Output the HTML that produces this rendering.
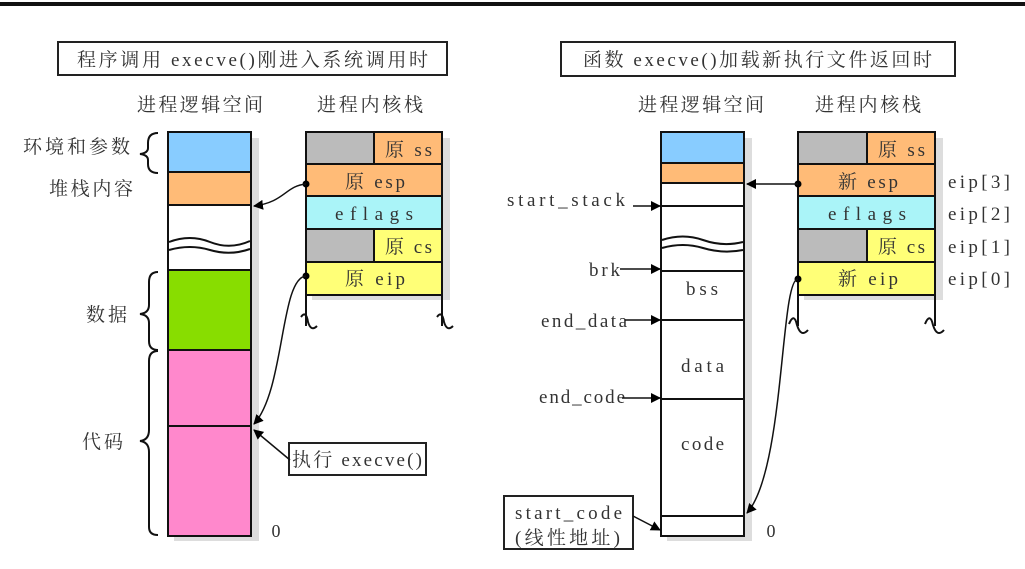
<!DOCTYPE html>
<html><head><meta charset="utf-8"><style>
html,body{margin:0;padding:0;background:#fff}
svg text{font-family:"Liberation Serif","Noto Serif CJK SC",serif;fill:#333}
</style></head><body>
<svg width="1025" height="564" viewBox="0 0 1025 564" xmlns="http://www.w3.org/2000/svg">
<defs>
<marker id="ar" markerWidth="10" markerHeight="10" refX="9" refY="5" orient="auto" markerUnits="userSpaceOnUse"><path d="M0,0 L10,5 L0,10 z" fill="#000"/></marker>
</defs>
<rect x="0" y="2" width="1025" height="4" fill="#111"/>
<!-- titles -->
<rect x="58" y="42" width="389" height="33" fill="#fff" stroke="#222" stroke-width="2"/>
<text x="77" y="66" font-size="19" textLength="351" lengthAdjust="spacing">程序调用 execve()刚进入系统调用时</text>
<rect x="561" y="42" width="394" height="34" fill="#fff" stroke="#222" stroke-width="2"/>
<text x="583" y="66" font-size="19" textLength="349" lengthAdjust="spacing">函数 execve()加载新执行文件返回时</text>
<text x="137" y="111" font-size="19" textLength="126" lengthAdjust="spacing">进程逻辑空间</text>
<text x="317" y="111" font-size="19" textLength="106" lengthAdjust="spacing">进程内核栈</text>
<text x="638" y="111" font-size="19" textLength="126" lengthAdjust="spacing">进程逻辑空间</text>
<text x="815" y="111" font-size="19" textLength="106" lengthAdjust="spacing">进程内核栈</text>

<!-- LEFT column -->
<rect x="252" y="138" width="7" height="401" fill="#ddd"/>
<rect x="174" y="536" width="85" height="5" fill="#ddd"/>
<rect x="168" y="132" width="83" height="40" fill="#88ccff" stroke="#111" stroke-width="2"/>
<rect x="168" y="172" width="83" height="33" fill="#ffbb77" stroke="#111" stroke-width="2"/>
<rect x="168" y="205" width="83" height="65" fill="#fff" stroke="#111" stroke-width="2"/>
<path d="M169,242 Q190,234 210,242 T250,241 M169,250 Q190,244 210,250 T250,249" fill="none" stroke="#111" stroke-width="2"/>
<rect x="168" y="270" width="83" height="80" fill="#88dd00" stroke="#111" stroke-width="2"/>
<rect x="168" y="350" width="83" height="186" fill="#ff88cc" stroke="#111" stroke-width="2"/>
<line x1="168" y1="426" x2="251" y2="426" stroke="#111" stroke-width="2"/>
<text x="276" y="537" font-size="18" text-anchor="middle">0</text>
<!-- braces -->
<path d="M158,133 Q148,133 148,143 L148,148 Q148,153 140,154 Q148,155 148,160 L148,164 Q148,173 158,173" fill="none" stroke="#111" stroke-width="2"/>
<path d="M158,272 Q149,272 149,282 L149,305 Q149,313 140,314 Q149,315 149,323 L149,341 Q149,350 158,350" fill="none" stroke="#111" stroke-width="2"/>
<path d="M158,351 Q149,351 149,361 L149,430 Q149,440 140,441 Q149,442 149,452 L149,527 Q149,535 158,535" fill="none" stroke="#111" stroke-width="2"/>
<text x="23" y="153" font-size="19" textLength="107" lengthAdjust="spacing">环境和参数</text>
<text x="49" y="195" font-size="19" textLength="84" lengthAdjust="spacing">堆栈内容</text>
<text x="86" y="321" font-size="19" textLength="41" lengthAdjust="spacing">数据</text>
<text x="82" y="448" font-size="19" textLength="41" lengthAdjust="spacing">代码</text>

<!-- LEFT stack -->
<rect x="443" y="138" width="7" height="162" fill="#ddd"/>
<rect x="312" y="295" width="138" height="5" fill="#ddd"/>
<rect x="306" y="132" width="68" height="32" fill="#bbb" stroke="#111" stroke-width="2"/>
<rect x="374" y="132" width="68" height="32" fill="#ffbb77" stroke="#111" stroke-width="2"/>
<rect x="306" y="164" width="136" height="32" fill="#ffbb77" stroke="#111" stroke-width="2"/>
<rect x="306" y="196" width="136" height="33" fill="#aaf4f8" stroke="#111" stroke-width="2"/>
<rect x="306" y="229" width="68" height="33" fill="#bbb" stroke="#111" stroke-width="2"/>
<rect x="374" y="229" width="68" height="33" fill="#ffff77" stroke="#111" stroke-width="2"/>
<rect x="306" y="262" width="136" height="33" fill="#ffff77" stroke="#111" stroke-width="2"/>
<text x="385" y="156" font-size="19" textLength="47" lengthAdjust="spacing">原 ss</text>
<text x="345" y="188" font-size="19" textLength="60" lengthAdjust="spacing">原 esp</text>
<text x="335" y="220" font-size="19" textLength="78" lengthAdjust="spacing">eflags</text>
<text x="385" y="253" font-size="19" textLength="47" lengthAdjust="spacing">原 cs</text>
<text x="345" y="285" font-size="19" textLength="60" lengthAdjust="spacing">原 eip</text>
<path d="M306,295 L306,326 M442,295 L442,326" stroke="#111" stroke-width="2"/>
<path d="M301,317 Q306,310 308,322 Q311,332 317,326 M437,317 Q442,310 444,322 Q447,332 453,326" fill="none" stroke="#111" stroke-width="2"/>
<circle cx="306" cy="184" r="3.5" fill="#000"/>
<circle cx="306" cy="276" r="3.5" fill="#000"/>
<path d="M306,184 C285,186 285,202 254,206" fill="none" stroke="#111" stroke-width="1.5" marker-end="url(#ar)"/>
<path d="M306,276 C280,278 285,390 254,424" fill="none" stroke="#111" stroke-width="1.5" marker-end="url(#ar)"/>
<rect x="289" y="443" width="137" height="32" fill="#fff" stroke="#222" stroke-width="2"/>
<text x="292" y="466" font-size="19" textLength="130" lengthAdjust="spacing">执行 execve()</text>
<path d="M290,460 L254,430" stroke="#111" stroke-width="1.5" marker-end="url(#ar)"/>

<!-- RIGHT column -->
<rect x="745" y="138" width="7" height="401" fill="#ddd"/>
<rect x="667" y="536" width="85" height="5" fill="#ddd"/>
<rect x="661" y="132" width="83" height="31" fill="#88ccff" stroke="#111" stroke-width="2"/>
<rect x="661" y="163" width="83" height="20" fill="#ffbb77" stroke="#111" stroke-width="2"/>
<rect x="661" y="183" width="83" height="353" fill="#fff" stroke="#111" stroke-width="2"/>
<line x1="661" y1="206" x2="744" y2="206" stroke="#111" stroke-width="2"/>
<path d="M662,240 Q683,233 703,240 T743,242 M662,248 Q683,242 703,248 T743,250" fill="none" stroke="#111" stroke-width="2"/>
<line x1="661" y1="271" x2="744" y2="271" stroke="#111" stroke-width="2"/>
<line x1="661" y1="320" x2="744" y2="320" stroke="#111" stroke-width="2"/>
<line x1="661" y1="399" x2="744" y2="399" stroke="#111" stroke-width="2"/>
<line x1="661" y1="516" x2="744" y2="516" stroke="#111" stroke-width="2"/>
<text x="686" y="295" font-size="19" textLength="32" lengthAdjust="spacing">bss</text>
<text x="681" y="372" font-size="19" textLength="43" lengthAdjust="spacing">data</text>
<text x="681" y="450" font-size="19" textLength="43" lengthAdjust="spacing">code</text>
<text x="771" y="537" font-size="18" text-anchor="middle">0</text>
<text x="507" y="206" font-size="19" textLength="118" lengthAdjust="spacing">start_stack</text>
<path d="M633,206 L660,206" stroke="#111" stroke-width="1.5" marker-end="url(#ar)"/>
<text x="589" y="276" font-size="19" textLength="31" lengthAdjust="spacing">brk</text>
<path d="M620,269 L660,269" stroke="#111" stroke-width="1.5" marker-end="url(#ar)"/>
<text x="541" y="327" font-size="19" textLength="86" lengthAdjust="spacing">end_data</text>
<path d="M625,320 L660,320" stroke="#111" stroke-width="1.5" marker-end="url(#ar)"/>
<text x="539" y="403" font-size="19" textLength="86" lengthAdjust="spacing">end_code</text>
<path d="M622,398 L660,398" stroke="#111" stroke-width="1.5" marker-end="url(#ar)"/>
<rect x="504" y="496" width="129" height="53" fill="#fff" stroke="#222" stroke-width="2"/>
<text x="515" y="519" font-size="19" textLength="107" lengthAdjust="spacing">start_code</text>
<text x="515" y="544" font-size="19" textLength="105" lengthAdjust="spacing">(线性地址)</text>
<path d="M633,516 L660,530" stroke="#111" stroke-width="1.5" marker-end="url(#ar)"/>

<!-- RIGHT stack -->
<rect x="936" y="138" width="7" height="162" fill="#ddd"/>
<rect x="804" y="295" width="139" height="5" fill="#ddd"/>
<rect x="798" y="132" width="69" height="32" fill="#bbb" stroke="#111" stroke-width="2"/>
<rect x="867" y="132" width="68" height="32" fill="#ffbb77" stroke="#111" stroke-width="2"/>
<rect x="798" y="164" width="137" height="32" fill="#ffbb77" stroke="#111" stroke-width="2"/>
<rect x="798" y="196" width="137" height="33" fill="#aaf4f8" stroke="#111" stroke-width="2"/>
<rect x="798" y="229" width="69" height="33" fill="#bbb" stroke="#111" stroke-width="2"/>
<rect x="867" y="229" width="68" height="33" fill="#ffff77" stroke="#111" stroke-width="2"/>
<rect x="798" y="262" width="137" height="33" fill="#ffff77" stroke="#111" stroke-width="2"/>
<text x="878" y="156" font-size="19" textLength="47" lengthAdjust="spacing">原 ss</text>
<text x="838" y="188" font-size="19" textLength="60" lengthAdjust="spacing">新 esp</text>
<text x="828" y="220" font-size="19" textLength="78" lengthAdjust="spacing">eflags</text>
<text x="878" y="253" font-size="19" textLength="47" lengthAdjust="spacing">原 cs</text>
<text x="838" y="285" font-size="19" textLength="60" lengthAdjust="spacing">新 eip</text>
<text x="948" y="188" font-size="19" textLength="62" lengthAdjust="spacing">eip[3]</text>
<text x="948" y="220" font-size="19" textLength="62" lengthAdjust="spacing">eip[2]</text>
<text x="948" y="253" font-size="19" textLength="62" lengthAdjust="spacing">eip[1]</text>
<text x="948" y="285" font-size="19" textLength="62" lengthAdjust="spacing">eip[0]</text>
<path d="M798,295 L798,326 M935,295 L935,326" stroke="#111" stroke-width="2"/>
<path d="M789,324 Q794,312 797,325 Q801,338 808,330 M925,324 Q930,312 933,325 Q937,338 944,330" fill="none" stroke="#111" stroke-width="2"/>
<circle cx="798" cy="184" r="3.5" fill="#000"/>
<circle cx="798" cy="279" r="3.5" fill="#000"/>
<path d="M798,184 L747,184" stroke="#111" stroke-width="1.5" marker-end="url(#ar)"/>
<path d="M798,279 C780,279 785,470 747,513" fill="none" stroke="#111" stroke-width="1.5" marker-end="url(#ar)"/>
</svg>
</body></html>
